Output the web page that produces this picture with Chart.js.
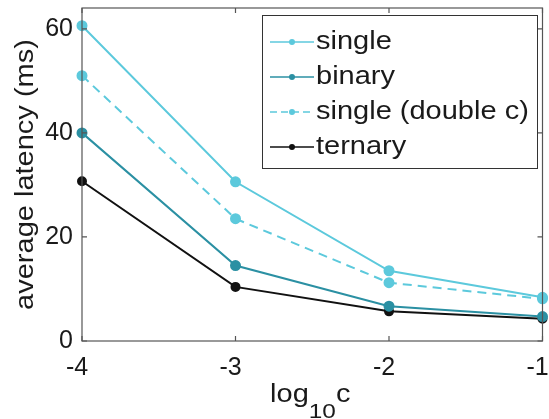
<!DOCTYPE html>
<html>
<head>
<meta charset="utf-8">
<script src="https://cdn.jsdelivr.net/npm/chart.js@4"></script>
<style>
  html, body { margin: 0; padding: 0; background: #fff; }
  #wrap { width: 549px; height: 419px; }
</style>
</head>
<body>
<div id="wrap"><canvas id="chart" width="549" height="419"></canvas></div>
<script>
const xValues = [-4, -3, -2, -1];
const singleVals = [60.6, 30.6, 13.5, 8.4];
const binaryVals = [40.0, 14.5, 6.7, 4.7];
const doubleCVals = [51.0, 23.5, 11.2, 8.1];
const ternaryVals = [30.7, 10.4, 5.7, 4.3];
const yTicks = [0, 20, 40, 60];

const FONT = '"Liberation Sans", Arial, sans-serif';
const TXT = '#1a1a1a';
const LIGHT = '#5cc9dc';
const TEAL = '#2b90a3';
const STRETCH = 1.16;   // the reference text is a bit wider than Arial

const toPts = vals => vals.map((v, i) => ({ x: xValues[i], y: v }));

function wideText(ctx, text, x, y, size) {
    ctx.save();
    ctx.font = size + 'px ' + FONT;
    ctx.translate(x, y);
    ctx.scale(STRETCH, 1);
    ctx.fillText(text, 0, 0);
    ctx.restore();
    ctx.font = size + 'px ' + FONT;
    return ctx.measureText(text).width * STRETCH;
}

// box, inward ticks on all four sides, axis titles
const boxTicks = {
    id: 'boxTicks',
    afterDraw(chart) {
        const { ctx, chartArea: a, scales: { x, y } } = chart;
        ctx.save();
        ctx.strokeStyle = '#555';
        ctx.lineWidth = 1.2;
        ctx.strokeRect(a.left, a.top, a.right - a.left, a.bottom - a.top);
        const len = 5;
        xValues.forEach(v => {
            const px = x.getPixelForValue(v);
            ctx.beginPath();
            ctx.moveTo(px, a.bottom); ctx.lineTo(px, a.bottom - len);
            ctx.moveTo(px, a.top); ctx.lineTo(px, a.top + len);
            ctx.stroke();
        });
        yTicks.forEach(v => {
            const py = y.getPixelForValue(v);
            ctx.beginPath();
            ctx.moveTo(a.left, py); ctx.lineTo(a.left + len, py);
            ctx.moveTo(a.right, py); ctx.lineTo(a.right - len, py);
            ctx.stroke();
        });

        ctx.fillStyle = TXT;
        ctx.textBaseline = 'alphabetic';
        ctx.textAlign = 'left';
        // x title: log10c with subscript
        ctx.font = '25px ' + FONT;
        const w1 = ctx.measureText('log').width * STRETCH;
        const w3 = ctx.measureText('c').width * STRETCH;
        ctx.font = '21px ' + FONT;
        const w2 = ctx.measureText('10').width * STRETCH;
        const sx = (a.left + a.right) / 2 - (w1 + w2 + w3) / 2 - 2;
        const base = 402;
        wideText(ctx, 'log', sx, base, 25);
        wideText(ctx, '10', sx + w1, base + 16, 21);
        wideText(ctx, 'c', sx + w1 + w2, base, 25);

        // y title, rotated
        ctx.save();
        ctx.translate(33, (a.top + a.bottom) / 2);
        ctx.rotate(-Math.PI / 2);
        ctx.scale(STRETCH, 1);
        ctx.font = '25px ' + FONT;
        ctx.textAlign = 'center';
        ctx.fillText('average latency (ms)', 0, 0);
        ctx.restore();
        ctx.restore();
    }
};

// legend inside the axes, top right
const insideLegend = {
    id: 'insideLegend',
    afterDraw(chart) {
        const { ctx } = chart;
        const bx = 262, by = 15, bw = 275, bh = 153;
        ctx.save();
        ctx.fillStyle = '#fff';
        ctx.fillRect(bx, by, bw, bh);
        ctx.strokeStyle = '#333';
        ctx.lineWidth = 1;
        ctx.strokeRect(bx + 0.5, by + 0.5, bw, bh);
        ctx.textBaseline = 'alphabetic';
        chart.data.datasets.forEach((ds, i) => {
            const cy = by + 27 + i * 35;
            ctx.strokeStyle = ds.borderColor;
            ctx.lineWidth = 1.6;
            ctx.setLineDash(ds.borderDash ? [7, 4] : []);
            ctx.beginPath();
            ctx.moveTo(bx + 8, cy); ctx.lineTo(bx + 52, cy);
            ctx.stroke();
            ctx.setLineDash([]);
            ctx.fillStyle = ds.pointBackgroundColor;
            ctx.beginPath();
            ctx.arc(bx + 30, cy, 3, 0, Math.PI * 2);
            ctx.fill();
            ctx.fillStyle = TXT;
            wideText(ctx, ds.label, bx + 54, cy + 7, 25);
        });
        ctx.restore();
    }
};

new Chart(document.getElementById('chart'), {
    type: 'line',
    data: {
        datasets: [
            { label: 'single', data: toPts(singleVals), borderColor: LIGHT, pointBackgroundColor: LIGHT, borderWidth: 2, pointRadius: 4.5 },
            { label: 'binary', data: toPts(binaryVals), borderColor: TEAL, pointBackgroundColor: TEAL, borderWidth: 2, pointRadius: 4.5 },
            { label: 'single (double c)', data: toPts(doubleCVals), borderColor: LIGHT, pointBackgroundColor: LIGHT, borderWidth: 2, borderDash: [9, 6], pointRadius: 4.5 },
            { label: 'ternary', data: toPts(ternaryVals), borderColor: '#111', pointBackgroundColor: '#111', borderWidth: 2, pointRadius: 4 }
        ]
    },
    options: {
        responsive: false,
        animation: false,
        clip: false,
        layout: { padding: { top: 8, right: 5, left: 0, bottom: 0 } },
        plugins: { legend: { display: false }, tooltip: { enabled: false } },
        elements: { line: { tension: 0 }, point: { borderWidth: 0 } },
        scales: {
            x: {
                type: 'linear', min: -4, max: -1,
                afterBuildTicks: s => { s.ticks = xValues.map(v => ({ value: v })); },
                afterFit: s => { s.height = 78; s.paddingLeft = 0; s.paddingRight = 0; },
                grid: { display: false, drawTicks: false },
                border: { display: false },
                ticks: { color: TXT, font: { size: 25, family: FONT }, padding: 12, maxRotation: 0, labelOffset: -5 }
            },
            y: {
                min: 0, max: 64,
                afterBuildTicks: s => { s.ticks = yTicks.map(v => ({ value: v })); },
                afterFit: s => { s.width = 82; s.paddingTop = 0; s.paddingBottom = 0; },
                grid: { display: false, drawTicks: false },
                border: { display: false },
                ticks: { color: TXT, font: { size: 25, family: FONT }, padding: 9 }
            }
        }
    },
    plugins: [boxTicks, insideLegend]
});
</script>
</body>
</html>
